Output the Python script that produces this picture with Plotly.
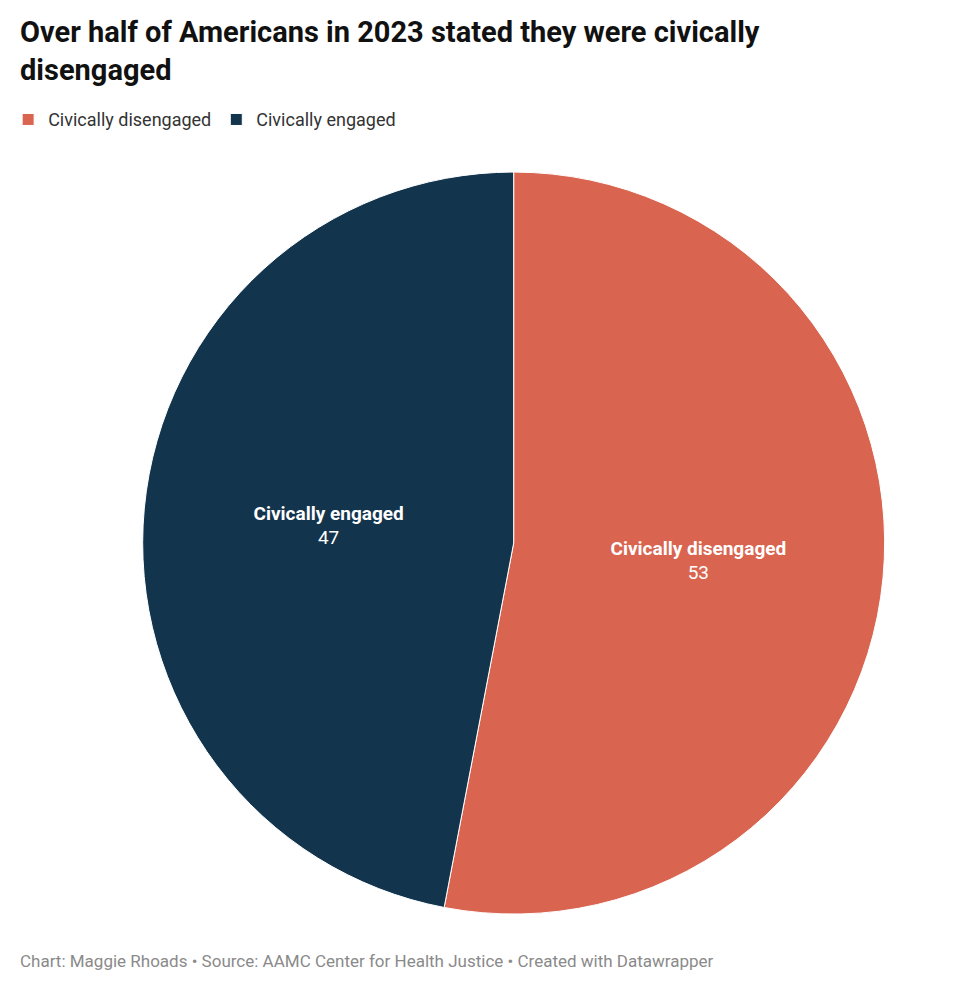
import plotly.graph_objects as go

labels = ["Civically disengaged", "Civically engaged"]
values = [53, 47]
colors = ["#D96450", "#12344D"]

fig = go.Figure(go.Pie(
    labels=labels,
    values=values,
    sort=False,
    direction="clockwise",
    rotation=0,
    marker=dict(colors=colors, line=dict(color="white", width=1)),
    texttemplate="<b>%{label}</b><br>%{value}",
    textposition="inside",
    insidetextorientation="horizontal",
    textfont=dict(family="Roboto", size=19, color="white"),
    domain=dict(x=[0.133, 0.894], y=[0.082, 0.836]),
    hoverinfo="label+value",
))

fig.update_layout(
    width=980, height=989,
    margin=dict(l=0, r=0, t=0, b=0),
    paper_bgcolor="white",
    font=dict(family="Roboto", color="#333333"),
    legend=dict(
        orientation="h", x=-0.005, xanchor="left", y=0.887, yanchor="middle",
        font=dict(family="Roboto", size=18, color="#333333"),
        traceorder="normal",
    ),
    annotations=[
        dict(
            text="<b>Over half of Americans in 2023 stated they were civically<br>disengaged</b>",
            x=0.005, xanchor="left", y=0.995, yanchor="top", align="left",
            xref="paper", yref="paper", showarrow=False,
            font=dict(family="Roboto", size=29, color="#111111"),
        ),
        dict(
            text="Chart: Maggie Rhoads • Source: AAMC Center for Health Justice • Created with Datawrapper",
            x=0.005, xanchor="left", y=0.036, yanchor="middle",
            xref="paper", yref="paper", showarrow=False,
            font=dict(family="Roboto", size=17, color="#8a8a8a"),
        ),
    ],
)

fig.write_html("out.html")
